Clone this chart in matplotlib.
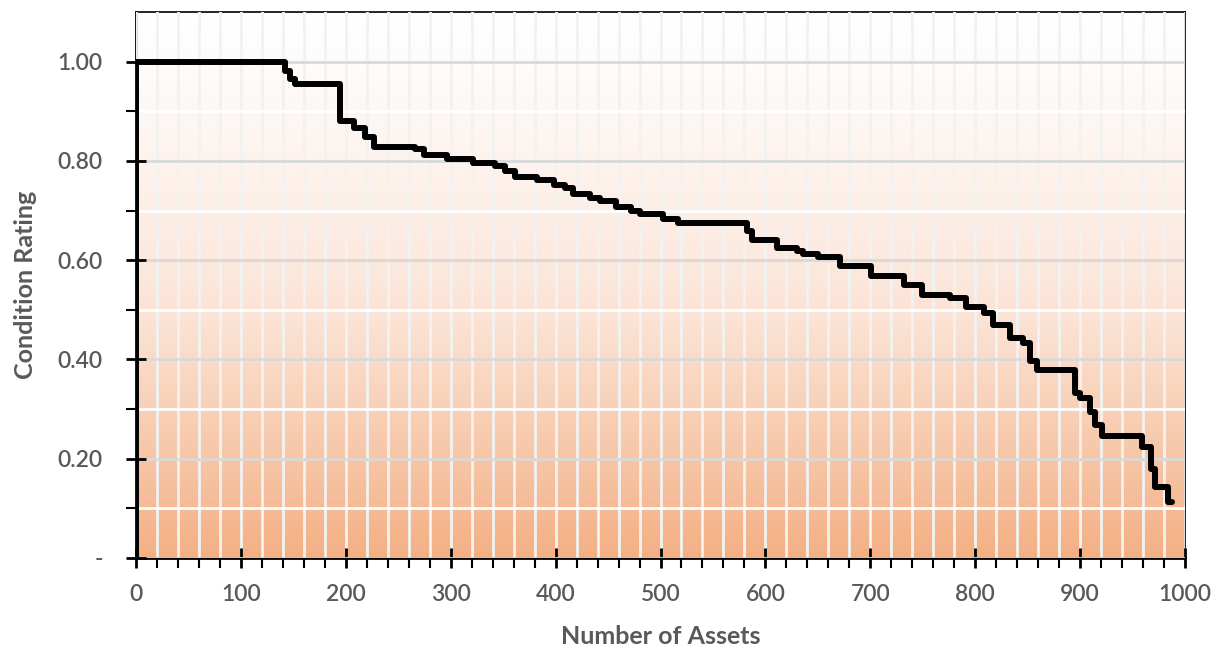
import numpy as np
import matplotlib
matplotlib.use("Agg")
import matplotlib.pyplot as plt
from matplotlib.ticker import MultipleLocator, FixedLocator
from matplotlib.colors import LinearSegmentedColormap

# step curve: value holds from each asset count onward
asset_counts = [0, 0, 142, 147, 152, 194, 208, 218, 227, 266, 275, 296, 321,
                342, 352, 361, 382, 398, 409, 417, 433, 442, 458, 472, 480,
                502, 517, 582, 587, 611, 630, 636, 650, 671, 701, 732, 749,
                776, 791, 808, 817, 833, 846, 852, 859, 895, 900, 909, 914,
                921, 959, 968, 971, 984, 988]
ratings = [0.0, 1.00, 0.982, 0.965, 0.954, 0.880, 0.867, 0.849, 0.829, 0.823,
           0.811, 0.804, 0.796, 0.789, 0.779, 0.768, 0.761, 0.752, 0.745,
           0.734, 0.725, 0.720, 0.707, 0.700, 0.693, 0.683, 0.675, 0.658,
           0.641, 0.624, 0.618, 0.612, 0.606, 0.589, 0.569, 0.550, 0.530,
           0.524, 0.505, 0.493, 0.470, 0.443, 0.433, 0.396, 0.378, 0.332,
           0.322, 0.295, 0.268, 0.245, 0.224, 0.180, 0.144, 0.113, 0.113]

y_ticks = [0.0, 0.2, 0.4, 0.6, 0.8, 1.0]
y_labels = ['-', '0.20', '0.40', '0.60', '0.80', '1.00']
x_ticks = list(range(0, 1001, 100))

plt.rcParams['font.family'] = ['Lato', 'DejaVu Sans']
grey = '#595959'

fig = plt.figure(figsize=(12.25, 6.49), dpi=100)
ax = fig.add_axes([136 / 1225, 91 / 649, 1049 / 1225, 546 / 649])

# background gradient white (top) -> orange (bottom)
cmap = LinearSegmentedColormap.from_list('bg', ['#ffffff', '#fbe3d5', '#f4b084'])
grad = np.linspace(0, 1, 256).reshape(-1, 1) ** 1.2
ax.imshow(grad, aspect='auto', cmap=cmap, extent=[0, 1000, 0, 1.1],
          origin='upper', zorder=0, interpolation='bilinear')

ax.set_xlim(0, 1000)
ax.set_ylim(0, 1.1)

ax.xaxis.set_minor_locator(MultipleLocator(20))
ax.set_xticks(x_ticks)
ax.set_yticks(y_ticks)
ax.set_yticklabels(y_labels)
ax.yaxis.set_minor_locator(FixedLocator([0.1, 0.3, 0.5, 0.7, 0.9]))

ax.grid(which='minor', axis='x', color='#f2f2f2', lw=2, zorder=1)
ax.grid(which='major', axis='x', color='#f2f2f2', lw=2, zorder=1)
ax.grid(which='minor', axis='y', color='#ffffff', lw=2, zorder=1)
ax.grid(which='major', axis='y', color='#d9d9d9', lw=2, zorder=1)
ax.set_axisbelow(False)

ax.plot(asset_counts, ratings, drawstyle='steps-post', color='black',
        lw=4.3, solid_capstyle='round', solid_joinstyle='round', zorder=3)

for s in ['left', 'bottom']:
    ax.spines[s].set_linewidth(2)
for s in ['top', 'right']:
    ax.spines[s].set_linewidth(1.2)

ax.tick_params(which='major', direction='inout', length=14, width=2,
               colors='black', labelcolor=grey, labelsize=16.5)
ax.tick_params(which='minor', direction='out', length=7, width=1.5,
               colors='black')
ax.tick_params(axis='x', which='major', pad=12)
ax.tick_params(axis='y', which='major', pad=17)
for lab in ax.get_xticklabels() + ax.get_yticklabels():
    lab.set_fontweight('semibold')

ax.set_xlabel('Number of Assets', fontsize=18, fontweight='bold',
              color=grey, labelpad=14)
ax.set_ylabel('Condition Rating', fontsize=18, fontweight='bold',
              color=grey, labelpad=15)

fig.savefig('out.png', dpi=100)
